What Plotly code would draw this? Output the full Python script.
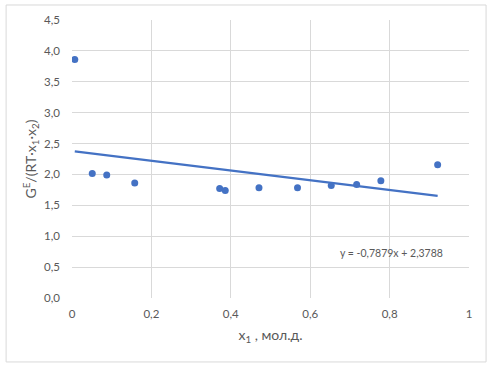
import plotly.graph_objects as go

# Data
x1_values = [0.007, 0.051, 0.0875, 0.158, 0.372, 0.386, 0.471, 0.568, 0.653, 0.717, 0.778, 0.921]
g_values = [3.86, 2.016, 1.99, 1.86, 1.774, 1.742, 1.784, 1.784, 1.82, 1.838, 1.897, 2.155]

# Linear trendline as stated on the chart
trend_slope = -0.7879
trend_intercept = 2.3788
trend_label = "y = -0,7879x + 2,3788"

x_ticks = [0, 0.2, 0.4, 0.6, 0.8, 1]
y_ticks = [0, 0.5, 1.0, 1.5, 2.0, 2.5, 3.0, 3.5, 4.0, 4.5]

blue = "#4472C4"
grid = "#D9D9D9"
text_col = "#595959"
font_family = "Lato, 'Open Sans', sans-serif"

trend_x = [min(x1_values), max(x1_values)]
trend_y = [trend_slope * v + trend_intercept for v in trend_x]

fig = go.Figure()
fig.add_trace(go.Scatter(x=trend_x, y=trend_y, mode="lines",
                         line=dict(color=blue, width=2.5), hoverinfo="skip",
                         showlegend=False))
fig.add_trace(go.Scatter(x=x1_values, y=g_values, mode="markers",
                         marker=dict(color=blue, size=7), showlegend=False))

fig.update_layout(
    width=496, height=368,
    margin=dict(l=72, r=27, t=20, b=70, autoexpand=False),
    paper_bgcolor="white", plot_bgcolor="white",
    separators=", ",
    font=dict(family=font_family, color=text_col, size=11.5),
    xaxis=dict(range=[0, 1], tickvals=x_ticks, tickformat="", showgrid=True,
               gridcolor=grid, gridwidth=1, zeroline=False, showline=False,
               ticks="", ticklabelstandoff=7, automargin=False,
               title=dict(text="x<sub>1</sub> , мол.д.", font=dict(size=14, color=text_col),
                          standoff=11)),
    yaxis=dict(range=[0, 4.5], tickvals=y_ticks, tickformat=".1f", showgrid=True,
               gridcolor=grid, gridwidth=1, zeroline=False, showline=False,
               ticks="", ticklabelstandoff=11, automargin=False,
               title=dict(text="G<sup>E</sup>/(RT·x<sub>1</sub>·x<sub>2</sub>)",
                          font=dict(size=14, color=text_col), standoff=4)),
    shapes=[dict(type="rect", xref="paper", yref="paper",
                 x0=-0.166, x1=1.043, y0=-0.230, y1=1.054,
                 line=dict(color=grid, width=1), fillcolor="rgba(0,0,0,0)", layer="above")],
    annotations=[dict(text=trend_label, x=0.67, y=0.735, xref="x", yref="y",
                      showarrow=False, xanchor="left", yanchor="middle",
                      font=dict(size=10.5, color=text_col))],
)

fig.write_html("out.html", config={"displayModeBar": False},
               post_script="document.body.style.margin='0';document.body.style.overflow='hidden';")
